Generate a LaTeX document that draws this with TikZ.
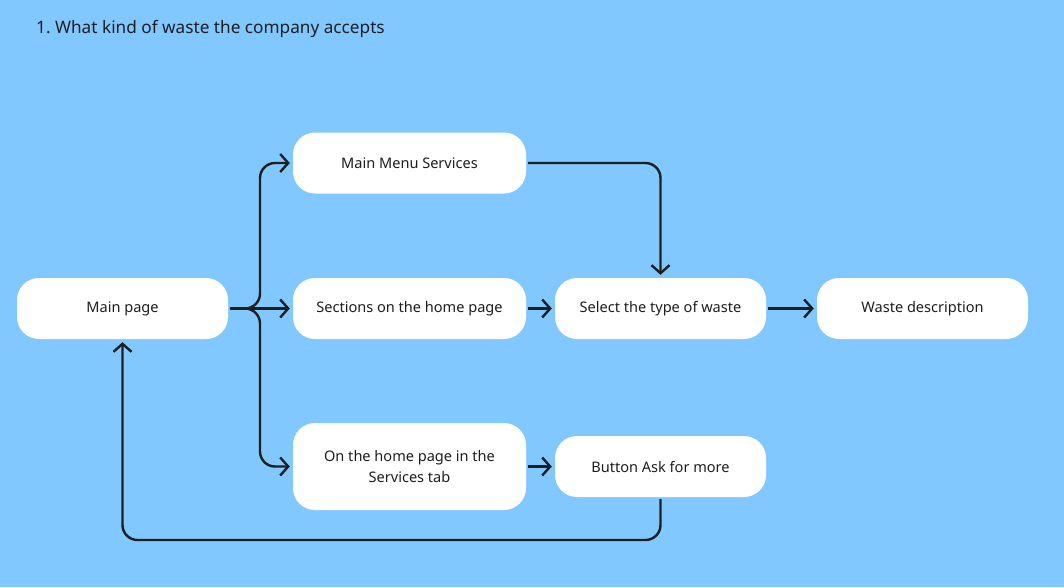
\documentclass[tikz,border=0pt]{standalone}
\usepackage{fontspec}
\setmainfont{Noto Sans}
\usetikzlibrary{arrows.meta}
\definecolor{bg}{HTML}{80C8FF}
\definecolor{ink}{HTML}{1E1E1E}
\tikzset{
  box/.style={fill=white, rounded corners=22pt, minimum width=211pt, minimum height=61pt, text=ink, font=\fontsize{14.55}{21.5}\selectfont, align=center, inner sep=0pt},
  wide/.style={box, minimum width=233pt},
  conn/.style={draw=ink, line width=2.4pt, rounded corners=15pt, -{Straight Barb[length=8pt,width=18pt,line width=2.4pt]}, shorten >=3pt, shorten <=2pt}
}
\begin{document}
\begin{tikzpicture}[x=1pt,y=-1pt]
\fill[bg] (0,0) rectangle (1064,587);
\useasboundingbox (0,0) rectangle (1064,587);
\node[anchor=west, text=ink, font=\fontsize{17.2}{20}\selectfont, inner sep=0pt] (title) at (36,29) {1.\ What kind of waste the company accepts};
\node[box] (main) at (122.5,308.5) {Main page};
\node[wide] (mms) at (409.5,163) {Main Menu Services};
\node[wide] (sec) at (409.5,308.5) {Sections on the home page};
\node[box] (sel) at (660.5,308.5) {Select the type of waste};
\node[box] (wd) at (922.5,308.5) {Waste description};
\node[wide, minimum height=87pt] (oth) at (409.5,466.5) {On the home page in the\\Services tab};
\node[box] (btn) at (660.5,466.5) {Button Ask for more};
\coordinate (br) at (260,308.5);
\coordinate (ret) at (122.5,540);
\draw[conn] (main.east) -- (br) |- (mms.west);
\draw[conn] (main.east) -- (br) |- (oth.west);
\draw[conn] (main.east) -- (sec.west);
\draw[conn] (mms.east) -| (sel.north);
\draw[conn] (sec.east) -- (sel.west);
\draw[conn] (sel.east) -- (wd.west);
\draw[conn] (oth.east |- btn.west) -- (btn.west);
\draw[conn] (btn.south) |- (ret) -- (main.south);
\end{tikzpicture}
\end{document}
